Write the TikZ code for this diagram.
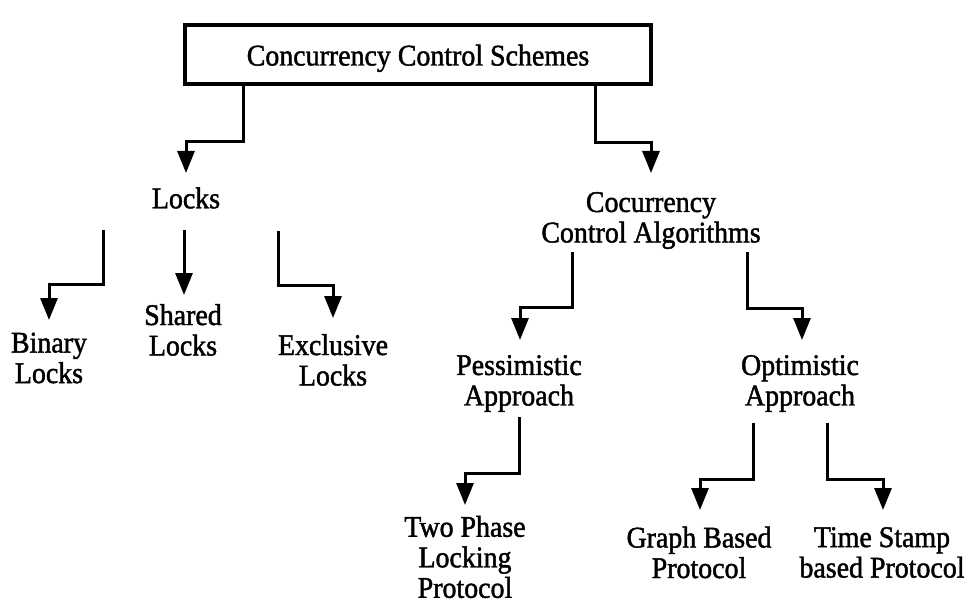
\documentclass[tikz,border=0pt]{standalone}
\usepackage{fontspec}
\setmainfont{Liberation Serif}[FakeStretch=0.93,FakeBold=1.5]
\usetikzlibrary{arrows.meta,calc}
\begin{document}
\begin{tikzpicture}[x=1pt,y=-1pt,
  lbl/.style={inner sep=0pt,align=center,font={\fontsize{30}{30.5}\selectfont}},
  titlebox/.style={draw,line width=3.5pt,minimum width=466pt,minimum height=59pt,
    inner sep=0pt,text height=26pt,text depth=4pt,font={\fontsize{30}{30.5}\selectfont}},
  conn/.style={line width=3pt,-{Triangle[width=17pt,length=22pt]}}]
\useasboundingbox (0,0) rectangle (969,604);
\fill[white] (0,0) rectangle (969,604);

\node[titlebox] (cs) at (418,54.5) {Concurrency Control Schemes};

\node[lbl] (locks) at (186,198) {Locks};
\node[lbl] (cca) at (651,220.5) {Cocurrency\\Control Algorithms};
\node[lbl] (binary) at (49,358) {Binary\\Locks};
\node[lbl] (shared) at (183,330) {Shared\\Locks};
\node[lbl] (excl) at (333,360) {Exclusive\\Locks};
\node[lbl] (pes) at (519,383.5) {Pessimistic\\Approach};
\node[lbl] (opt) at (800,383.5) {Optimistic\\Approach};
\node[lbl] (two) at (465,557) {Two Phase\\Locking\\Protocol};
\node[lbl] (graph) at (699,552.5) {Graph Based\\Protocol};
\node[lbl] (time) at (882,552.5) {Time Stamp\\based Protocol};

\draw[conn] ($(cs.center)+(-175,31.5)$) -- ++(0,56) -| ($(locks.center)+(0,-25)$);
\draw[conn] ($(cs.center)+(177,31.5)$) -- ++(0,57) -| ($(cca.center)+(0,-47.5)$);
\draw[conn] ($(locks.center)+(-83,32)$) -- ++(0,54) -| ($(binary.center)+(0,-38)$);
\draw[conn] ($(locks.center)+(-2,32)$) -- ($(shared.center)+(1,-35)$);
\draw[conn] ($(locks.center)+(92,33)$) -- ++(0,54) -| ($(excl.center)+(0,-42)$);
\draw[conn] ($(cca.center)+(-79,31.5)$) -- ++(0,55) -| ($(pes.center)+(1,-43.5)$);
\draw[conn] ($(cca.center)+(96,31.5)$) -- ++(0,56) -| ($(opt.center)+(2,-43.5)$);
\draw[conn] ($(pes.center)+(0,33.5)$) -- ++(0,56) -| ($(two.center)+(0,-52)$);
\draw[conn] ($(opt.center)+(-47,39.5)$) -- ++(0,56) -| ($(graph.center)+(1,-42.5)$);
\draw[conn] ($(opt.center)+(27,39.5)$) -- ++(0,56) -| ($(time.center)+(1,-42.5)$);
\end{tikzpicture}
\end{document}
